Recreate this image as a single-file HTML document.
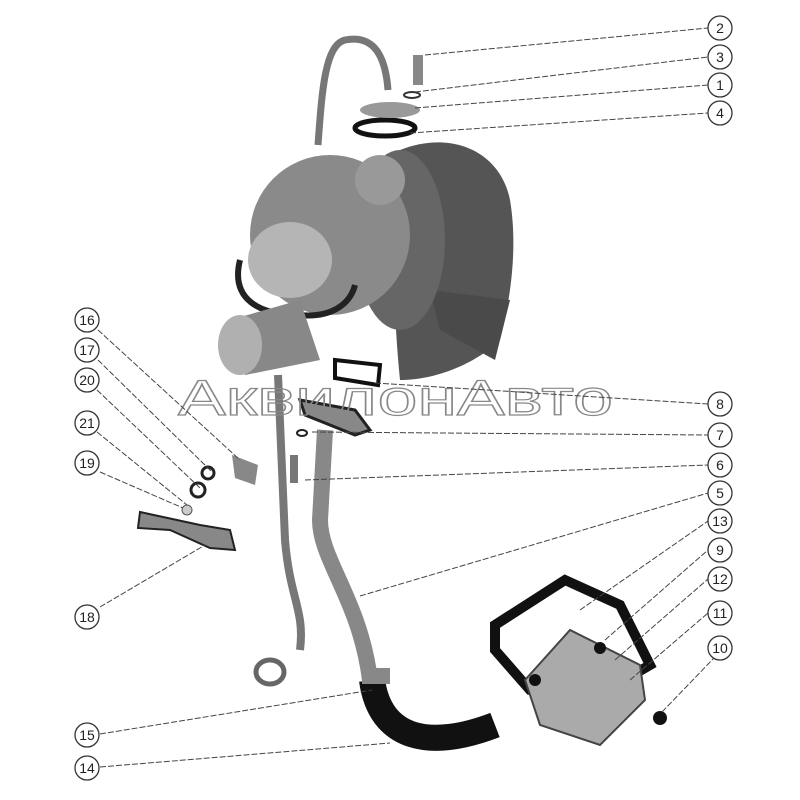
<!DOCTYPE html>
<html><head><style>body{margin:0;background:#fff}svg{display:block}</style></head><body>
<svg width="800" height="800" viewBox="0 0 800 800" xmlns="http://www.w3.org/2000/svg" font-family="Liberation Sans, sans-serif">
<rect width="800" height="800" fill="#fff"/>
<!-- top oil pipe -->
<path d="M318,145 C322,90 325,45 345,40 C370,35 385,50 388,90" fill="none" stroke="#777" stroke-width="7"/>
<!-- turbine housing -->
<path d="M400,150 C450,130 500,150 510,200 C520,260 505,320 500,340 C480,360 440,380 400,380 C395,330 390,250 400,150Z" fill="#555"/>
<path d="M430,290 L510,300 L495,360 L440,330Z" fill="#4a4a4a"/>
<ellipse cx="400" cy="240" rx="45" ry="90" fill="#666"/>
<circle cx="330" cy="235" r="80" fill="#8a8a8a"/>
<circle cx="380" cy="180" r="25" fill="#999"/>
<ellipse cx="290" cy="260" rx="42" ry="38" fill="#b5b5b5"/>
<path d="M240,260 C230,300 260,315 300,315 C330,318 350,305 355,285" fill="none" stroke="#222" stroke-width="6"/>
<path d="M230,320 L300,300 L320,360 L245,375Z" fill="#888"/>
<ellipse cx="240" cy="345" rx="22" ry="30" fill="#b0b0b0"/>
<!-- gaskets at top -->
<ellipse cx="385" cy="128" rx="30" ry="8" fill="none" stroke="#111" stroke-width="5"/>
<ellipse cx="390" cy="110" rx="30" ry="8" fill="#999"/>
<rect x="413" y="55" width="10" height="30" fill="#888"/>
<ellipse cx="412" cy="95" rx="8" ry="3" fill="none" stroke="#333" stroke-width="2"/>
<!-- flange at 8 -->
<path d="M335,360 L380,365 L378,385 L335,378Z" fill="none" stroke="#111" stroke-width="4"/>
<path d="M300,400 L355,410 L370,430 L355,435 L305,415Z" fill="#888" stroke="#222" stroke-width="3"/>
<!-- thin pipe -->
<path d="M278,375 L285,540 C290,600 305,610 300,650" fill="none" stroke="#777" stroke-width="8"/>
<ellipse cx="270" cy="672" rx="14" ry="12" fill="none" stroke="#666" stroke-width="5"/>
<!-- thick pipe -->
<path d="M325,430 L320,520 C320,560 360,600 370,680" fill="none" stroke="#888" stroke-width="16"/>
<!-- hose -->
<path d="M372,680 C380,740 430,750 495,725" fill="none" stroke="#111" stroke-width="26"/>
<rect x="362" y="668" width="28" height="16" fill="#888"/>
<rect x="290" y="455" width="8" height="28" fill="#777"/>
<ellipse cx="302" cy="433" rx="5" ry="3" fill="none" stroke="#222" stroke-width="2"/>
<!-- bracket 18 and parts left -->
<path d="M140,512 L200,525 L230,530 L235,550 L210,548 L170,530 L138,528Z" fill="#888" stroke="#222" stroke-width="2"/>
<path d="M232,455 L258,465 L255,485 L235,478Z" fill="#888"/>
<circle cx="208" cy="473" r="6" fill="none" stroke="#222" stroke-width="3"/>
<circle cx="198" cy="490" r="7" fill="none" stroke="#222" stroke-width="3"/>
<circle cx="187" cy="510" r="5" fill="#ccc" stroke="#555"/>
<!-- gasket 13 and flange -->
<path d="M495,625 L565,580 L620,605 L650,665 L590,700 L530,690 L495,650Z" fill="none" stroke="#111" stroke-width="10"/>
<path d="M525,680 L570,630 L640,665 L645,700 L600,745 L540,725Z" fill="#aaa" stroke="#444" stroke-width="2"/>
<circle cx="600" cy="648" r="6" fill="#111"/>
<circle cx="535" cy="680" r="6" fill="#111"/>
<circle cx="660" cy="718" r="7" fill="#111"/>
<text x="178" y="415" font-size="50" fill="none" stroke="#888" stroke-width="1.2" textLength="435" lengthAdjust="spacingAndGlyphs">АквилонАвто</text>
<g stroke="#444" stroke-width="1" stroke-dasharray="6,2" fill="none">
<line x1="425" y1="55" x2="708" y2="28"/><line x1="415" y1="92" x2="708" y2="57"/>
<line x1="415" y1="108" x2="708" y2="85"/><line x1="410" y1="133" x2="708" y2="113"/>
<line x1="375" y1="383" x2="708" y2="404"/><line x1="312" y1="432" x2="708" y2="435"/>
<line x1="305" y1="480" x2="708" y2="465"/><line x1="360" y1="596" x2="708" y2="493"/>
<line x1="580" y1="610" x2="708" y2="521"/><line x1="605" y1="640" x2="708" y2="550"/>
<line x1="615" y1="660" x2="708" y2="579"/><line x1="630" y1="680" x2="708" y2="613"/>
<line x1="662" y1="712" x2="714" y2="658"/>
<line x1="98" y1="330" x2="240" y2="460"/><line x1="98" y1="360" x2="212" y2="472"/>
<line x1="97" y1="390" x2="200" y2="488"/><line x1="97" y1="432" x2="187" y2="505"/>
<line x1="100" y1="472" x2="183" y2="508"/><line x1="100" y1="607" x2="205" y2="545"/>
<line x1="100" y1="734" x2="372" y2="690"/><line x1="100" y1="767" x2="390" y2="743"/>
</g>
<g fill="#fff" stroke="#333" stroke-width="1.3">
<circle cx="720" cy="28" r="12"/><circle cx="720" cy="57" r="12"/><circle cx="720" cy="85" r="12"/><circle cx="720" cy="113" r="12"/>
<circle cx="720" cy="404" r="12"/><circle cx="720" cy="435" r="12"/><circle cx="720" cy="465" r="12"/><circle cx="720" cy="493" r="12"/>
<circle cx="720" cy="521" r="12"/><circle cx="720" cy="550" r="12"/><circle cx="720" cy="579" r="12"/><circle cx="720" cy="613" r="12"/><circle cx="720" cy="648" r="12"/>
<circle cx="87" cy="320" r="12"/><circle cx="87" cy="350" r="12"/><circle cx="87" cy="380" r="12"/><circle cx="87" cy="423" r="12"/><circle cx="87" cy="463" r="12"/><circle cx="87" cy="617" r="12"/><circle cx="87" cy="735" r="12"/><circle cx="87" cy="768" r="12"/>
</g>
<g font-size="14" fill="#222" text-anchor="middle">
<text x="720" y="33">2</text><text x="720" y="62">3</text><text x="720" y="90">1</text><text x="720" y="118">4</text>
<text x="720" y="409">8</text><text x="720" y="440">7</text><text x="720" y="470">6</text><text x="720" y="498">5</text>
<text x="720" y="526">13</text><text x="720" y="555">9</text><text x="720" y="584">12</text><text x="720" y="618">11</text><text x="720" y="653">10</text>
<text x="87" y="325">16</text><text x="87" y="355">17</text><text x="87" y="385">20</text><text x="87" y="428">21</text><text x="87" y="468">19</text><text x="87" y="622">18</text><text x="87" y="740">15</text><text x="87" y="773">14</text>
</g>
</svg>
</body></html>
